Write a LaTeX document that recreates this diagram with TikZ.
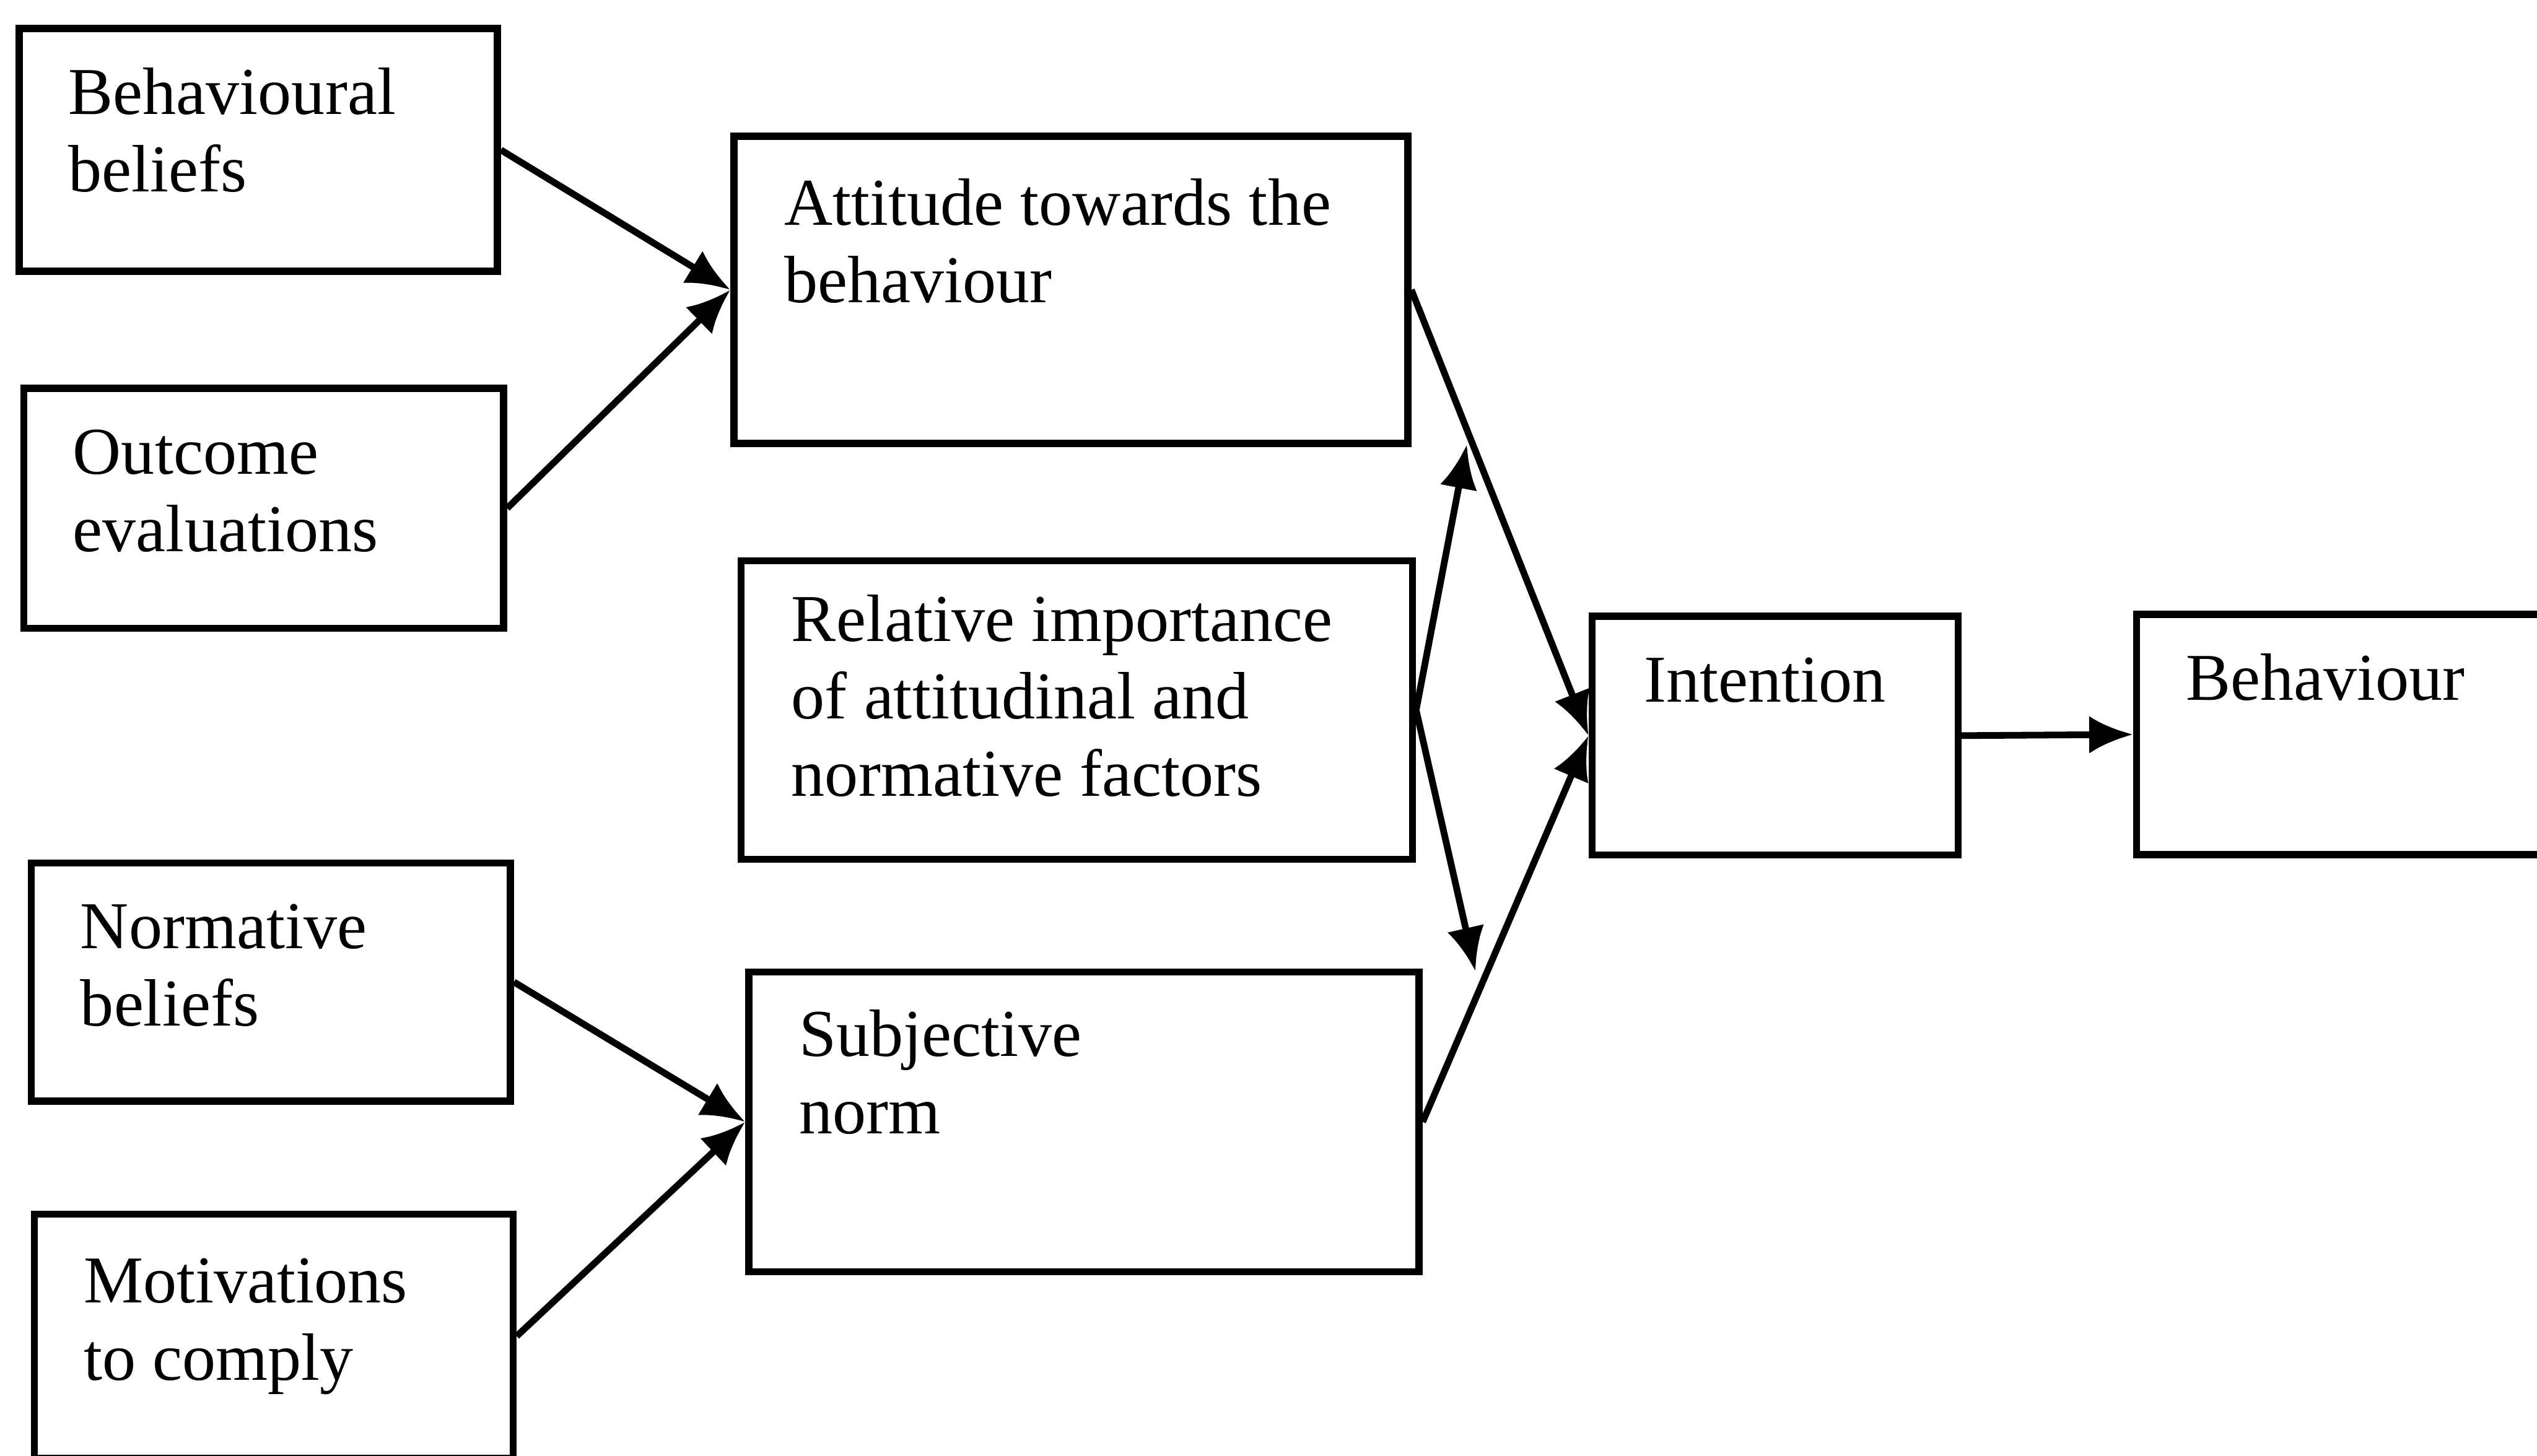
\documentclass[tikz,border=0pt]{standalone}
\usepackage{fontspec}
\setmainfont{Liberation Serif}
\usetikzlibrary{arrows.meta}
\usetikzlibrary{positioning}

\tikzset{
  box/.style={rectangle,draw=black,line width=3.4pt,inner sep=0pt},
  txt/.style={anchor=base west,align=left,inner sep=0pt,font=\fontsize{32}{37}\selectfont},
  arr/.style={line width=3.2pt,-{Latex[length=21pt,width=18pt]}}
}

\begin{document}
\begin{tikzpicture}
\clip (0,0) rectangle (42.62,24.46);
% boxes
\node at (4.34,21.94)[box,minimum width=8.03cm,minimum height=4.08cm](bb){};
\node at (4.43,15.92)[box,minimum width=8.06cm,minimum height=4.03cm](oe){};
\node at (4.55,7.96)[box,minimum width=8.05cm,minimum height=4.0cm](nb){};
\node at (4.60,2.01)[box,minimum width=8.04cm,minimum height=4.1cm](mc){};
\node at (17.99,19.59)[box,minimum width=11.32cm,minimum height=5.16cm](att){};
\node at (18.09,12.53)[box,minimum width=11.28cm,minimum height=5.02cm](rel){};
\node at (18.21,5.61)[box,minimum width=11.26cm,minimum height=5.04cm](sn){};
\node at (29.82,12.10)[box,minimum width=6.15cm,minimum height=4.01cm](int){};
\node at (39.45,12.12)[box,minimum width=7.11cm,minimum height=4.04cm](beh){};
% texts (base = last line)
\node[txt] at ([shift={(0.88,-2.8)}]bb.north west)(bbt){Behavioural\\beliefs};
\node[txt] at ([shift={(0.88,-2.8)}]oe.north west)(oet){Outcome\\evaluations};
\node[txt] at ([shift={(0.88,-2.8)}]nb.north west)(nbt){Normative\\beliefs};
\node[txt] at ([shift={(0.88,-2.85)}]mc.north west)(mct){Motivations\\to comply};
\node[txt] at ([shift={(0.9,-2.85)}]att.north west)(attt){Attitude towards the\\behaviour};
\node[txt] at ([shift={(0.9,-4.02)}]rel.north west)(relt){Relative importance\\of attitudinal and\\normative factors};
\node[txt] at ([shift={(0.9,-2.78)}]sn.north west)(snt){Subjective\\norm};
\node[txt] at ([shift={(0.93,-1.5)}]int.north west)(intt){Intention};
\node[txt] at ([shift={(0.88,-1.5)}]beh.north west)(beht){Behaviour};
% arrows
\draw[arr] (bb.east) -- (att.west);
\draw[arr] (oe.east) -- (att.west);
\draw[arr] (nb.east) -- (sn.west);
\draw[arr] (mc.east) -- (sn.west);
\draw[arr] (att.east) -- coordinate[pos=0.347] (up) (int.west);
\draw[arr] (sn.east) -- coordinate[pos=0.39] (dn) (int.west);
\draw[arr] (rel.east) -- ([xshift=-0.1cm]up);
\draw[arr] (rel.east) -- ([xshift=-0.2cm]dn);
\draw[arr] (int.east) -- (beh.west);
\end{tikzpicture}
\end{document}
